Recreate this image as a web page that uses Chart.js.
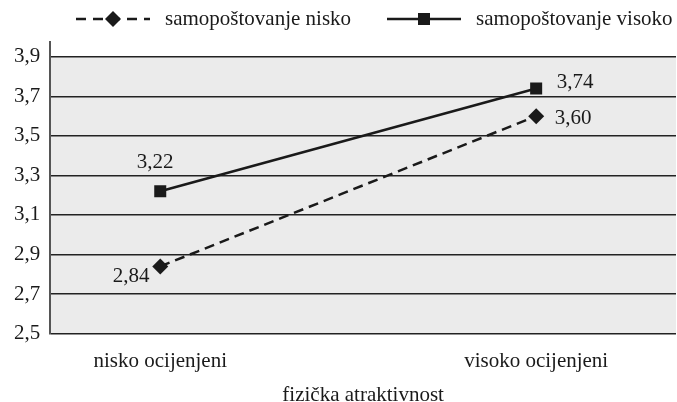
<!DOCTYPE html>
<html>
<head>
<meta charset="utf-8">
<script src="https://cdn.jsdelivr.net/npm/chart.js@4"></script>
<style>
  html, body { margin: 0; padding: 0; background: #fff; }
  #wrap { width: 677px; height: 402px; }
</style>
</head>
<body>
<div id="wrap"><canvas id="chart"></canvas></div>
<script>
const categories = ["nisko ocijenjeni", "visoko ocijenjeni"];
const seriesNames = ["samopoštovanje nisko", "samopoštovanje visoko"];
const niskoValues = [2.84, 3.60];
const visokoValues = [3.22, 3.74];
const yTicks = [2.5, 2.7, 2.9, 3.1, 3.3, 3.5, 3.7, 3.9];
const xTitle = "fizička atraktivnost";

const FONT = "'Liberation Serif', 'Times New Roman', serif";
const FS = 21;
const INK = "#1a1a1a";

function fmt(v, d) {
  return v.toFixed(d).replace(".", ",");
}

// label offsets per series / point (px)
const labelOffsets = [
  [{ dx: -29, dy: 10 }, { dx: 37, dy: 2 }],
  [{ dx: -5, dy: -29 }, { dx: 39, dy: -6 }]
];

// gray panel between lowest and highest tick
const panelPlugin = {
  id: "panel",
  beforeDraw(chart) {
    const { ctx, chartArea, scales } = chart;
    const top = scales.y.getPixelForValue(yTicks[yTicks.length - 1]);
    const bottom = scales.y.getPixelForValue(yTicks[0]);
    ctx.save();
    ctx.fillStyle = "#ebebeb";
    ctx.fillRect(chartArea.left, top, chartArea.right - chartArea.left, bottom - top);
    ctx.restore();
  }
};

// value labels + legend
const labelPlugin = {
  id: "labels",
  afterDraw(chart) {
    const ctx = chart.ctx;
    ctx.save();
    ctx.font = FS + "px " + FONT;
    ctx.fillStyle = INK;
    ctx.textAlign = "center";
    ctx.textBaseline = "middle";
    chart.data.datasets.forEach((ds, i) => {
      const meta = chart.getDatasetMeta(i);
      meta.data.forEach((pt, j) => {
        const off = labelOffsets[i][j];
        ctx.fillText(fmt(ds.data[j].y, 2), pt.x + off.dx, pt.y + off.dy);
      });
    });

    // legend
    const ly = 19;
    const items = [
      { x0: 76, x1: 150, text: seriesNames[0], dash: [10, 7], marker: "diamond" },
      { x0: 387, x1: 461, text: seriesNames[1], dash: [], marker: "square" }
    ];
    items.forEach(it => {
      ctx.strokeStyle = INK;
      ctx.lineWidth = 2.5;
      ctx.setLineDash(it.dash);
      ctx.beginPath();
      ctx.moveTo(it.x0, ly);
      ctx.lineTo(it.x1, ly);
      ctx.stroke();
      ctx.setLineDash([]);
      const cx = (it.x0 + it.x1) / 2;
      ctx.fillStyle = INK;
      ctx.beginPath();
      if (it.marker === "diamond") {
        ctx.moveTo(cx, ly - 8);
        ctx.lineTo(cx + 8, ly);
        ctx.lineTo(cx, ly + 8);
        ctx.lineTo(cx - 8, ly);
        ctx.closePath();
      } else {
        ctx.rect(cx - 6, ly - 6, 12, 12);
      }
      ctx.fill();
      ctx.textAlign = "left";
      ctx.fillText(it.text, it.x1 + 15, ly);
    });
    ctx.restore();
  }
};

new Chart(document.getElementById("chart"), {
  type: "line",
  data: {
    datasets: [
      {
        label: seriesNames[0],
        data: niskoValues.map((v, i) => ({ x: i, y: v })),
        borderColor: INK,
        backgroundColor: INK,
        borderWidth: 2.5,
        borderDash: [10, 6],
        pointStyle: "rectRot",
        pointRadius: 8,
        pointBorderWidth: 0
      },
      {
        label: seriesNames[1],
        data: visokoValues.map((v, i) => ({ x: i, y: v })),
        borderColor: INK,
        backgroundColor: INK,
        borderWidth: 2.5,
        pointStyle: "rect",
        pointRadius: 8.5,
        pointBorderWidth: 0
      }
    ]
  },
  options: {
    responsive: true,
    maintainAspectRatio: false,
    animation: false,
    layout: { autoPadding: false, padding: { top: 42, left: 4, right: 1, bottom: -6 } },
    plugins: {
      legend: { display: false },
      tooltip: { enabled: false }
    },
    scales: {
      x: {
        type: "linear",
        min: -0.2926,
        max: 1.372,
        afterBuildTicks(axis) {
          axis.ticks = categories.map((c, i) => ({ value: i }));
        },
        afterFit(axis) {
          axis.paddingLeft = 0;
          axis.paddingRight = 0;
        },
        ticks: {
          callback: (v) => categories[v],
          color: INK,
          font: { family: FONT, size: FS },
          padding: 15
        },
        grid: { display: false, drawTicks: false },
        border: { display: false },
        title: {
          display: true,
          text: xTitle,
          color: INK,
          font: { family: FONT, size: FS },
          padding: { top: -6, bottom: 0 }
        }
      },
      y: {
        min: 2.5,
        max: 3.975,
        afterBuildTicks(axis) {
          axis.ticks = yTicks.map(v => ({ value: v }));
        },
        ticks: {
          callback: (v) => fmt(v, 1),
          color: INK,
          font: { family: FONT, size: FS },
          padding: 10
        },
        grid: {
          color: "#222",
          lineWidth: 1.5,
          drawTicks: false
        },
        border: { display: true, color: "#555", width: 2 }
      }
    }
  },
  plugins: [panelPlugin, labelPlugin]
});
</script>
</body>
</html>
